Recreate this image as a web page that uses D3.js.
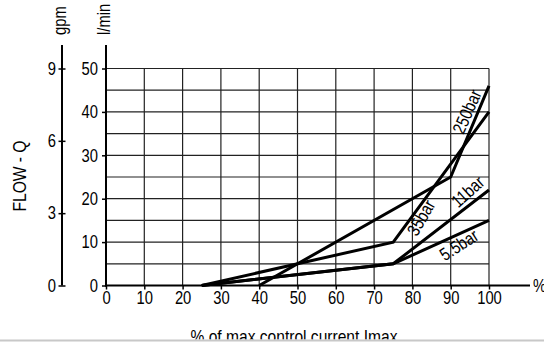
<!DOCTYPE html>
<html>
<head>
<meta charset="utf-8">
<script src="https://cdn.jsdelivr.net/npm/d3@7/dist/d3.min.js"></script>
<style>
  html, body { margin: 0; padding: 0; background: #fff; }
  svg { display: block; }
  text { font-family: "Liberation Sans Narrow", "Arial Narrow", "Liberation Sans", Arial, sans-serif; fill: #000; }
</style>
</head>
<body>
<script>
// ---- data ----
const xTicks = [0, 10, 20, 30, 40, 50, 60, 70, 80, 90, 100];
const lminTicks = [0, 10, 20, 30, 40, 50];
const gpmTicks = [0, 3, 6, 9];
const seriesNames = ["250bar", "35bar", "11bar", "5.5bar"];
const s250x = [40, 90, 100], s250y = [0, 25, 46];
const s35x  = [25, 75, 100], s35y  = [0, 10, 40];
const s11x  = [25, 75, 100], s11y  = [0, 5, 22];
const s55x  = [25, 75, 100], s55y  = [0, 5, 15];
// label anchor (in data units) and angle
const labelX = [94.3, 82.3, 94.5, 92.2];
const labelY = [40, 15.6, 21.6, 9.3];
const labelAngle = [-66, -60, -42, -33];

const W = 544, H = 342;
const svg = d3.select("body").append("svg").attr("width", W).attr("height", H);

const x = d3.scaleLinear().domain([0, 100]).range([106, 489]);
const y = d3.scaleLinear().domain([0, 50]).range([285.5, 68.5]);
const yg = d3.scaleLinear().domain([0, 9]).range([285.5, 68.5]);

// grid
const g = svg.append("g");
g.selectAll(".hg").data(d3.range(5, 51, 5)).join("line")
  .attr("x1", x(0)).attr("x2", x(100))
  .attr("y1", d => y(d)).attr("y2", d => y(d))
  .attr("stroke", "#222").attr("stroke-width", 1.2);
g.selectAll(".vg").data(d3.range(10, 101, 10)).join("line")
  .attr("y1", y(0)).attr("y2", y(50))
  .attr("x1", d => x(d)).attr("x2", d => x(d))
  .attr("stroke", "#222").attr("stroke-width", 1.2);

// series lines
const series = [[s250x, s250y], [s35x, s35y], [s11x, s11y], [s55x, s55y]];
const line = d3.line().x(d => x(d[0])).y(d => y(d[1]));
svg.selectAll(".ser").data(series).join("path")
  .attr("d", s => line(s[0].map((v, i) => [v, s[1][i]])))
  .attr("fill", "none").attr("stroke", "#000").attr("stroke-width", 3)
  .attr("stroke-linejoin", "miter");

// series labels
svg.selectAll(".lab").data(seriesNames).join("text")
  .attr("transform", (d, i) => `translate(${x(labelX[i])},${y(labelY[i])}) rotate(${labelAngle[i]})`)
  .attr("text-anchor", "middle").attr("dominant-baseline", "central")
  .attr("font-size", 18)
  .text(d => d);

// x axis
const xAxis = d3.axisBottom(x).tickValues(xTicks).tickSize(4).tickPadding(2).tickFormat(d3.format("d"));
const gx = svg.append("g").attr("transform", `translate(0,${y(0)})`).call(xAxis);
gx.select(".domain").remove();
gx.selectAll(".tick line").attr("stroke", "#000").attr("stroke-width", 1.5);
gx.selectAll(".tick text").attr("font-size", 18).attr("font-family", null);
svg.append("line").attr("x1", x(0) - 1).attr("x2", 530).attr("y1", y(0)).attr("y2", y(0))
  .attr("stroke", "#000").attr("stroke-width", 2);
svg.append("text").attr("x", 533).attr("y", y(0) + 6).attr("font-size", 18).text("%");

// l/min axis
const yAxis = d3.axisLeft(y).tickValues(lminTicks).tickSize(4).tickPadding(4);
const gy = svg.append("g").attr("transform", `translate(${x(0)},0)`).call(yAxis);
gy.select(".domain").remove();
gy.selectAll(".tick line").attr("stroke", "#000").attr("stroke-width", 1.5);
gy.selectAll(".tick text").attr("font-size", 18).attr("font-family", null);
svg.append("line").attr("x1", x(0)).attr("x2", x(0)).attr("y1", 45).attr("y2", y(0) + 1)
  .attr("stroke", "#000").attr("stroke-width", 2);

// gpm axis
const gpmX = 62;
const gAxis = d3.axisLeft(yg).tickValues(gpmTicks).tickSize(0).tickPadding(6);
const gg = svg.append("g").attr("transform", `translate(${gpmX},0)`).call(gAxis);
gg.select(".domain").remove();
gg.selectAll(".tick text").attr("font-size", 18).attr("font-family", null);
gg.selectAll(".tick").append("line").attr("x1", -3.5).attr("x2", 3.5)
  .attr("stroke", "#000").attr("stroke-width", 1.5);
svg.append("line").attr("x1", gpmX).attr("x2", gpmX).attr("y1", 45).attr("y2", y(0))
  .attr("stroke", "#000").attr("stroke-width", 2);

// axis titles
svg.append("text").attr("transform", `translate(66,35) rotate(-90)`)
  .attr("text-anchor", "start").attr("font-size", 18).text("gpm");
svg.append("text").attr("transform", `translate(110,35) rotate(-90)`)
  .attr("text-anchor", "start").attr("font-size", 18).text("l/min");
svg.append("text").attr("transform", `translate(26,176) rotate(-90)`)
  .attr("text-anchor", "middle").attr("font-size", 19).text("FLOW - Q");
svg.append("text").attr("x", 294).attr("y", 343)
  .attr("text-anchor", "middle").attr("font-size", 19).text("% of max control current Imax");

// condense all text horizontally (narrow typeface look)
svg.selectAll("text").each(function () {
  const len = this.getComputedTextLength();
  if (len > 0) {
    d3.select(this).attr("textLength", len * 0.82).attr("lengthAdjust", "spacingAndGlyphs");
  }
});

// bottom border
svg.append("rect").attr("x", 0).attr("y", 339.5).attr("width", W).attr("height", 3).attr("fill", "#fff");
svg.append("line").attr("x1", 0).attr("x2", W).attr("y1", 340.5).attr("y2", 340.5)
  .attr("stroke", "#c8c8c8").attr("stroke-width", 2);
</script>
</body>
</html>
